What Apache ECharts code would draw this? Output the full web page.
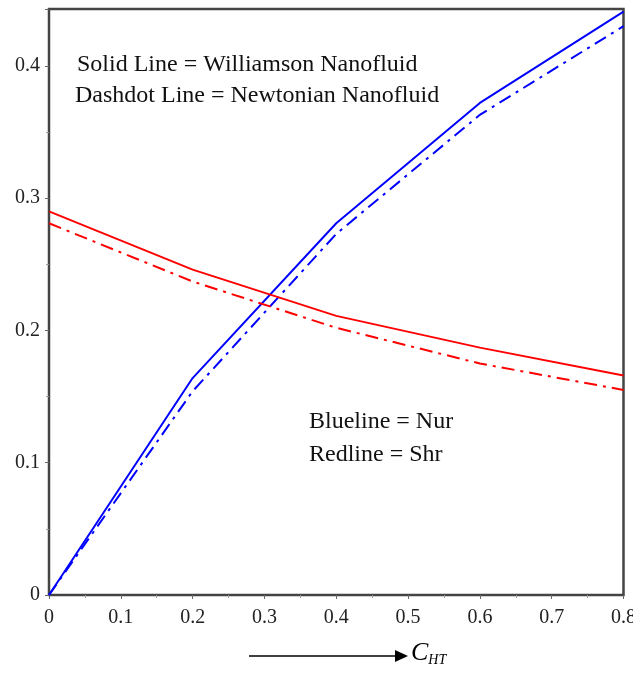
<!DOCTYPE html>
<html><head><meta charset="utf-8">
<script src="https://cdn.jsdelivr.net/npm/echarts@6/dist/echarts.min.js"></script>
<style>html,body{margin:0;padding:0;background:#fff}#c{width:633px;height:676px}</style>
</head><body><div id="c"></div>
<script>
const xValues = [0, 0.2, 0.4, 0.6, 0.8];
const nurWilliamson = [0, 0.164, 0.281, 0.372, 0.441];
const nurNewtonian  = [0, 0.154, 0.273, 0.363, 0.430];
const shrWilliamson = [0.290, 0.246, 0.211, 0.187, 0.166];
const shrNewtonian  = [0.281, 0.237, 0.202, 0.175, 0.155];
const xTicks = [0, 0.1, 0.2, 0.3, 0.4, 0.5, 0.6, 0.7, 0.8];
const yTicks = [0, 0.1, 0.2, 0.3, 0.4];

const pair = (ys) => xValues.map((x, i) => [x, ys[i]]);
const serif = '"Liberation Serif", "DejaVu Serif", serif';
const dashdot = [13, 6, 3, 6];

const chart = echarts.init(document.getElementById('c'));
chart.setOption({
  animation: false,
  grid: { left: 49, right: 9.5, top: 9, bottom: 81, containLabel: false, outerBoundsMode: 'none',
    show: true, borderColor: '#444', borderWidth: 2.5, backgroundColor: 'transparent' },
  xAxis: {
    type: 'value', min: 0, max: 0.8, interval: 0.1,
    axisLine: { show: false },
    axisTick: { show: true, length: 4, lineStyle: { color: '#666' } },
    minorTick: { show: true, splitNumber: 2, length: 3, lineStyle: { color: '#999' } },
    splitLine: { show: false },
    axisLabel: { fontFamily: serif, fontSize: 20, color: '#222', margin: 13,
      formatter: v => { const t = xTicks.find(k => Math.abs(k - v) < 1e-9); return t === undefined ? '' : String(t); } }
  },
  yAxis: {
    type: 'value', min: 0, max: 0.443, interval: 0.1,
    axisLine: { show: false },
    axisTick: { show: true, length: 4, lineStyle: { color: '#666' } },
    minorTick: { show: true, splitNumber: 2, length: 3, lineStyle: { color: '#999' } },
    splitLine: { show: false },
    axisLabel: { fontFamily: serif, fontSize: 20, color: '#222', margin: 9, showMaxLabel: false,
      formatter: v => { const t = yTicks.find(k => Math.abs(k - v) < 1e-9); return t === undefined ? '' : String(t); } }
  },
  series: [
    { name: 'Nur Williamson', type: 'line', data: pair(nurWilliamson), symbol: 'none', lineStyle: { color: '#0000ff', width: 2 } },
    { name: 'Nur Newtonian', type: 'line', data: pair(nurNewtonian), symbol: 'none', lineStyle: { color: '#0000ff', width: 2, type: dashdot } },
    { name: 'Shr Williamson', type: 'line', data: pair(shrWilliamson), symbol: 'none', lineStyle: { color: '#ff0000', width: 2 } },
    { name: 'Shr Newtonian', type: 'line', data: pair(shrNewtonian), symbol: 'none', lineStyle: { color: '#ff0000', width: 2, type: dashdot } }
  ],
  graphic: [
    { type: 'text', left: 77, top: 53, style: { text: 'Solid Line = Williamson Nanofluid', font: '24px ' + serif, fill: '#111' } },
    { type: 'text', left: 75, top: 84, style: { text: 'Dashdot Line = Newtonian Nanofluid', font: '24px ' + serif, fill: '#111' } },
    { type: 'text', left: 309, top: 410, style: { text: 'Blueline = Nur', font: '24px ' + serif, fill: '#111' } },
    { type: 'text', left: 309, top: 443, style: { text: 'Redline = Shr', font: '24px ' + serif, fill: '#111' } },
    { type: 'line', shape: { x1: 249, y1: 656, x2: 398, y2: 656 }, style: { stroke: '#000', lineWidth: 1.5 } },
    { type: 'polygon', shape: { points: [[395, 650], [408, 656], [395, 662]] }, style: { fill: '#000' } },
    { type: 'text', left: 411, top: 640, style: { text: '{c|C}{s|HT}', rich: {
      c: { font: 'italic 26px ' + serif, fill: '#000' },
      s: { font: 'italic 14px ' + serif, fill: '#000', padding: [14, 0, 0, 0] } } } }
  ]
});
</script></body></html>
